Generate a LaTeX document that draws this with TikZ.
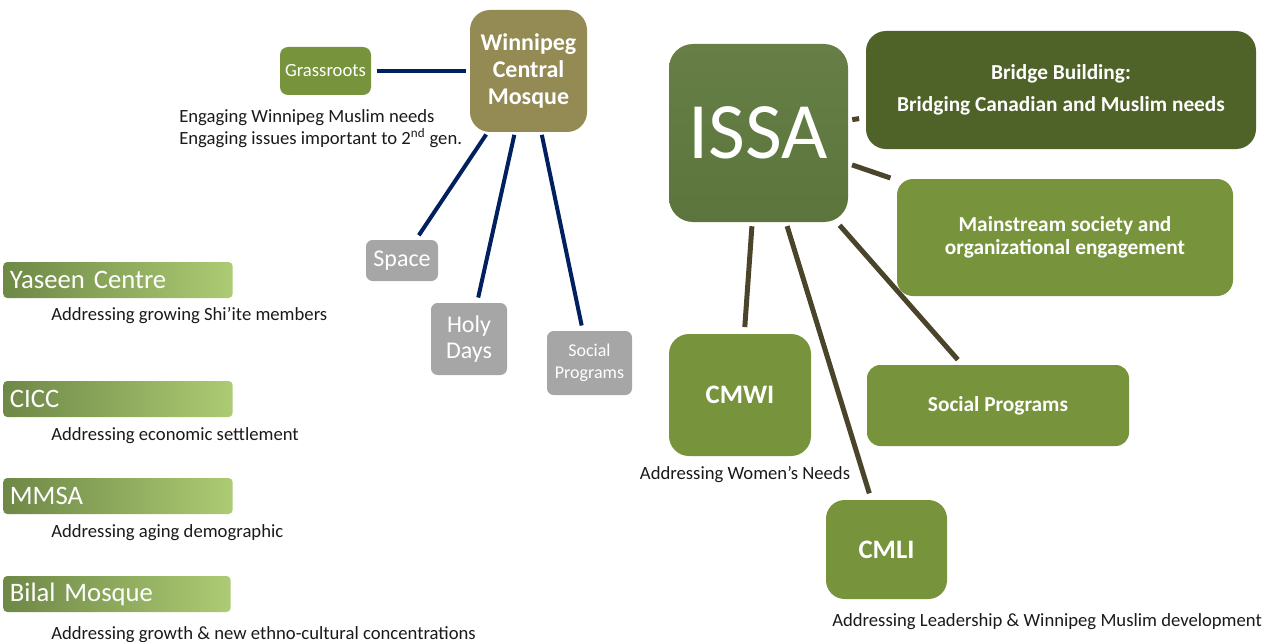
\documentclass[tikz,border=0pt]{standalone}
\usepackage{fontspec}
\setmainfont{Carlito}
\usetikzlibrary{positioning}
\definecolor{leafgreen}{HTML}{77933C}
\definecolor{darkleaf}{HTML}{4F6228}
\definecolor{issatop}{HTML}{677F47}
\definecolor{issabot}{HTML}{5B753C}
\definecolor{mosquetan}{HTML}{948A54}
\definecolor{stonegray}{HTML}{A6A6A6}
\definecolor{navyline}{HTML}{002060}
\definecolor{barkline}{HTML}{4A452A}
\definecolor{shadeleft}{HTML}{6E8846}
\definecolor{shaderight}{HTML}{ADCB74}
\definecolor{textprimary}{HTML}{1A1A1A}

\begin{document}
\begin{tikzpicture}[x=0.75pt,y=-0.75pt,
    box/.style={rounded corners=#1,text=white,align=center,inner sep=0pt},
    tab/.style={rounded corners=3pt,left color=shadeleft,right color=shaderight,
      text=white,font=\fontsize{20}{24}\selectfont,anchor=west,align=left,
      inner xsep=5pt,inner ysep=0pt,minimum height=27pt},
    note/.style={text=textprimary,font=\fontsize{14}{16.5}\selectfont,inner sep=0pt},
    navy/.style={navyline,line width=3pt,shorten <=2pt,shorten >=4pt},
    bark/.style={barkline,line width=3.75pt,shorten <=3pt,shorten >=5pt}]
    \useasboundingbox (0,0) rectangle (1279,642);

    % Winnipeg Central Mosque
    \node[box=15pt,fill=mosquetan,minimum width=87.75pt,minimum height=91.5pt,
      font=\fontsize{18}{20}\selectfont\bfseries] (wcm) at (528.5,71) {Winnipeg\\Central\\Mosque};
    \node[box=6pt,fill=leafgreen,minimum width=68.25pt,minimum height=36pt,
      font=\fontsize{14}{16}\selectfont] (grass) at (325.5,71) {Grassroots};
    \node[note,anchor=west,align=left] (engage) at (179,129)
      {Engaging Winnipeg Muslim needs\\Engaging issues important to 2\textsuperscript{nd} gen.};
    \node[box=5pt,fill=stonegray,minimum width=54pt,minimum height=30.75pt,
      font=\fontsize{18}{20}\selectfont] (space) at (402,260.5) {Space};
    \node[box=5pt,fill=stonegray,minimum width=57pt,minimum height=54pt,
      font=\fontsize{18}{20}\selectfont] (holy) at (469,339) {Holy\\Days};
    \node[box=5pt,fill=stonegray,minimum width=63.75pt,minimum height=48pt,
      font=\fontsize{13.5}{16.5}\selectfont] (smallprog) at (589.5,363) {Social\\Programs};

    \draw[navy,shorten <=4pt,shorten >=3pt] (grass) -- (wcm);
    \draw[navy] (wcm) -- (space);
    \draw[navy] (wcm) -- (holy);
    \draw[navy] (wcm) -- (smallprog);

    % Other centres
    \node[tab,text width=162pt] (yaseen) at (3,280) {Yaseen Centre};
    \node[note,anchor=west] (yaseennote) at (51,316) {Addressing growing Shi’ite members};
    \node[tab,text width=162pt] (cicc) at (3,399) {CICC};
    \node[note,anchor=west] (ciccnote) at (51,436) {Addressing economic settlement};
    \node[tab,text width=162pt] (mmsa) at (3,496) {MMSA};
    \node[note,anchor=west] (mmsanote) at (51,533) {Addressing aging demographic};
    \node[tab,text width=160.5pt] (bilal) at (3,594) {Bilal Mosque};
    \node[note,anchor=west] (bilalnote) at (51,635) {Addressing growth \& new ethno-cultural concentrations};

    % ISSA
    \node[box=18pt,top color=issatop,bottom color=issabot,minimum width=134.25pt,minimum height=133.5pt,
      font=\fontsize{60}{60}\selectfont] (issa) at (758.5,133) {ISSA};
    \node[box=15pt,fill=darkleaf,minimum width=292.5pt,minimum height=88.5pt,
      font=\fontsize{16}{19}\selectfont\bfseries] (bridge) at (1061,90)
      {Bridge Building:\\[5pt]Bridging Canadian and Muslim needs};
    \node[box=12pt,fill=leafgreen,minimum width=252pt,minimum height=87.75pt,
      font=\fontsize{16}{17}\selectfont\bfseries] (mainstream) at (1065,237.5)
      {Mainstream society and\\organizational engagement};
    \node[box=10pt,fill=leafgreen,minimum width=196.5pt,minimum height=60.75pt,
      font=\fontsize{16}{19}\selectfont\bfseries] (socprog) at (998,405.5) {Social Programs};
    \node[box=15pt,fill=leafgreen,minimum width=106.5pt,minimum height=91.5pt,
      font=\fontsize{20}{24}\selectfont\bfseries] (cmwi) at (740,395) {CMWI};
    \node[note] (cmwinote) at (745,475) {Addressing Women’s Needs};
    \node[box=14pt,fill=leafgreen,minimum width=90.75pt,minimum height=74.25pt,
      font=\fontsize{20}{24}\selectfont\bfseries] (cmli) at (886.5,549.5) {CMLI};
    \node[note,anchor=west] (cmlinote) at (832,622) {Addressing Leadership \& Winnipeg Muslim development};

    \draw[bark] (issa) -- (bridge);
    \draw[bark] (issa) -- (mainstream);
    \draw[bark] (issa) -- (socprog);
    \draw[bark] (issa) -- (cmwi);
    \draw[bark] (issa) -- (cmli);
\end{tikzpicture}
\end{document}
